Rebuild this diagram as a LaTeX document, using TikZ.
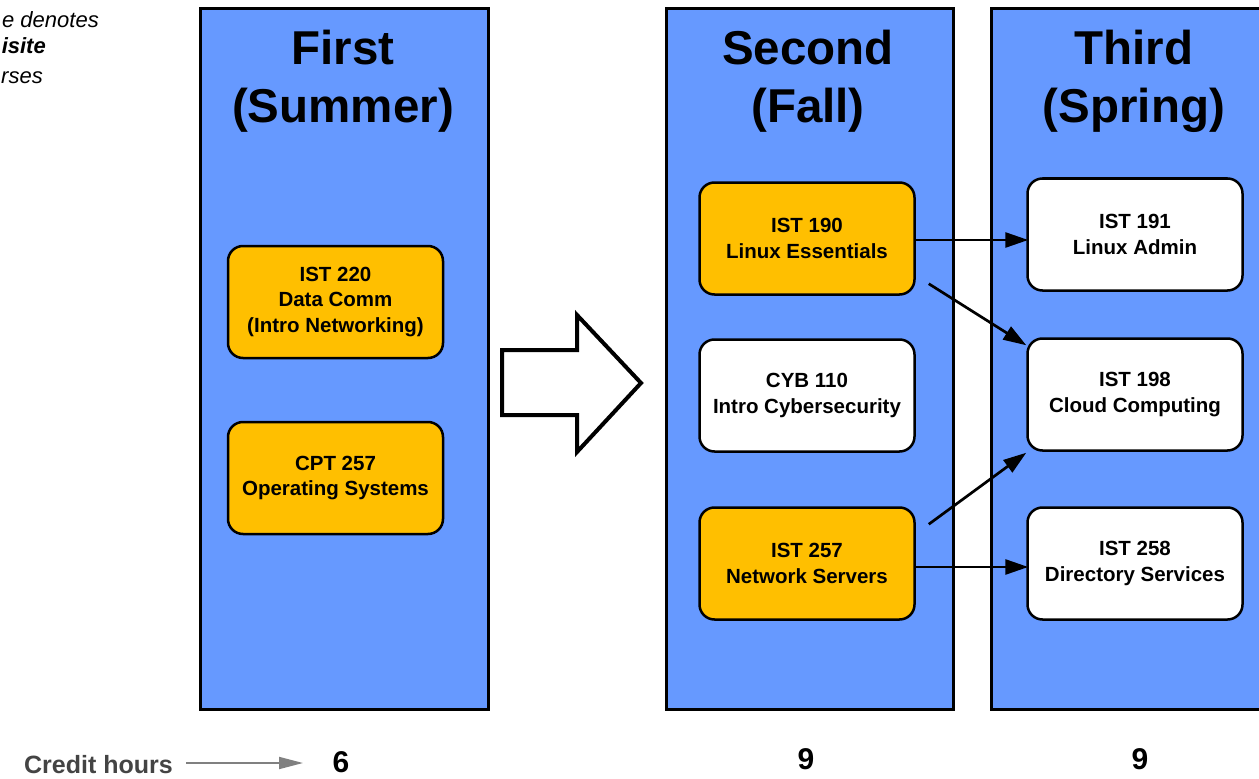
\documentclass[tikz,border=0pt]{standalone}
\usepackage{fontspec}
\setmainfont{Liberation Sans}
\usetikzlibrary{arrows.meta,calc}
\definecolor{colblue}{HTML}{6699FF}
\definecolor{crsorange}{HTML}{FFBF00}
\definecolor{txtgray}{HTML}{444444}
\begin{document}
\begin{tikzpicture}[x=1bp,y=-1bp,
  column/.style={draw=black,line width=2.7bp,fill=colblue,anchor=north west,inner sep=0pt},
  heading/.style={font=\fontsize{47.5bp}{58bp}\selectfont\bfseries,align=center},
  course/.style={draw=black,line width=2.5bp,rounded corners=15bp,minimum width=215bp,minimum height=112bp,
     align=center,font=\fontsize{20.5bp}{25.5bp}\selectfont\bfseries,inner sep=0pt},
  prereq/.style={course,fill=crsorange},
  plain/.style={course,fill=white},
  link/.style={draw=black,line width=2.7bp,-{Triangle[length=23bp,width=15bp]}},
  hours/.style={font=\fontsize{30bp}{30bp}\selectfont\bfseries},
  note/.style={font=\fontsize{22bp}{26bp}\selectfont\itshape,anchor=base east,inner sep=0pt}
]
\useasboundingbox (0,0) rectangle (1259,779);
\fill[white] (0,0) rectangle (1259,779);
% columns
\node[column,minimum width=288bp,minimum height=701bp] (c1) at (199,7) {};
\node[column,minimum width=287bp,minimum height=701bp] (c2) at (665,7) {};
\node[column,minimum width=280bp,minimum height=701bp] (c3) at (990,7) {};
% headings
\node[heading] (h1) at (343,81) {First\\(Summer)};
\node[heading] (h2) at (808,81) {Second\\(Fall)};
\node[heading] (h3) at (1134,81) {Third\\(Spring)};
% courses
\node[prereq] (i220) at (335.5,302) {IST 220\\Data Comm\\(Intro Networking)};
\node[prereq] (c257) at (335.5,478) {CPT 257\\Operating Systems};
\node[prereq] (i190) at (807,238.5) {IST 190\\Linux Essentials};
\node[plain] (y110) at (807,395.5) {CYB 110\\Intro Cybersecurity};
\node[prereq] (i257) at (807,563.5) {IST 257\\Network Servers};
\node[plain] (i191) at (1135,234.5) {IST 191\\Linux Admin};
\node[plain] (i198) at (1135,394.5) {IST 198\\Cloud Computing};
\node[plain] (i258) at (1135,563.5) {IST 258\\Directory Services};
% prerequisite links
\draw[link] (i190.east) ++(0,1.5) -- ($(i191.west)+(2,5.5)$);
\draw[link] ($(i190.south east)+(13,-12)$) -- ($(i198.north west)+(0,8)$);
\draw[link] ($(i257.north east)+(13,18)$) -- ($(i198.south west)+(0,1)$);
\draw[link] (i257.east) ++(0,3.5) -- ($(i258.west)+(2,3.5)$);
% block arrow
\draw[line width=4bp,fill=white,line join=miter] (502,350) -- (577,350) -- (577,315) -- (641,383)
  -- (577,452) -- (577,415) -- (502,415) -- cycle;
% note (cropped)
\node[note] (n1) at (99,28) {e denotes};
\node[note,font=\fontsize{22bp}{26bp}\selectfont\bfseries\itshape] (n2) at (46,54) {isite};
\node[note] (n3) at (43,84) {rses};
% credit hours
\node[font=\fontsize{25bp}{25bp}\selectfont\bfseries,text=txtgray,anchor=east,inner sep=0pt] (cr) at (173,765) {Credit hours};
\node[hours] (k1) at (341,762) {6};
\node[hours] (k2) at (806,759) {9};
\node[hours] (k3) at (1140,759) {9};
\coordinate (crend) at (303,763);
\draw[draw=gray,line width=1.8bp,-{Triangle[length=24bp,width=12bp]}] ($(cr.east)+(13,-2)$) -- (crend);
\end{tikzpicture}
\end{document}
